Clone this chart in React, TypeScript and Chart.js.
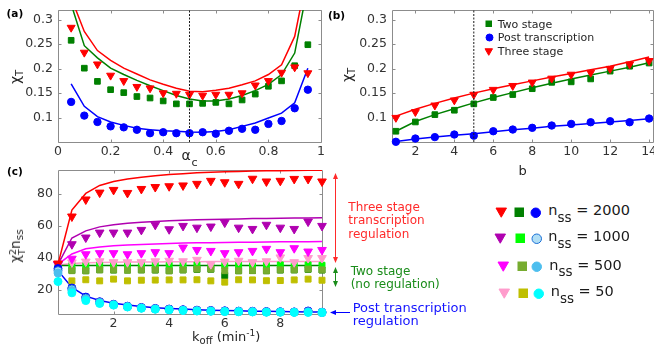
import React, { useEffect, useRef } from 'react';
import { Chart, registerables } from 'chart.js';

Chart.register(...registerables);

const FONT = "'DejaVu Sans', sans-serif";
const TICK_COLOR = '#333333';
const LABEL_COLOR = '#262626';
const BOX_COLOR = '#8c8c8c';

// ---------------- Panel (a): chi_T vs alpha_c ----------------
const alphaC = [0.05, 0.1, 0.15, 0.2, 0.25, 0.3, 0.35, 0.4, 0.45, 0.5, 0.55, 0.6, 0.65, 0.7, 0.75, 0.8, 0.85, 0.9, 0.95];
const aThreeSim = [0.284, 0.233, 0.209, 0.186, 0.175, 0.163, 0.16, 0.15, 0.149, 0.147, 0.145, 0.147, 0.147, 0.15, 0.166, 0.175, 0.192, 0.203, 0.191];
const aTwoSim = [0.258, 0.201, 0.174, 0.157, 0.151, 0.143, 0.14, 0.134, 0.128, 0.128, 0.129, 0.131, 0.128, 0.136, 0.148, 0.164, 0.175, 0.206, 0.249];
const aPostSim = [0.132, 0.104, 0.091, 0.082, 0.08, 0.075, 0.068, 0.07, 0.068, 0.068, 0.07, 0.067, 0.073, 0.077, 0.075, 0.087, 0.093, 0.119, 0.157];
const aThreeTheory = [0.345, 0.276, 0.237, 0.217, 0.201, 0.189, 0.177, 0.168, 0.16, 0.154, 0.153, 0.156, 0.16, 0.167, 0.175, 0.188, 0.208, 0.266, 0.4];
const aTwoTheory = [0.332, 0.247, 0.222, 0.201, 0.188, 0.176, 0.165, 0.155, 0.145, 0.138, 0.134, 0.134, 0.138, 0.145, 0.155, 0.168, 0.188, 0.232, 0.37];
const aPostTheory = [0.169, 0.123, 0.102, 0.091, 0.084, 0.078, 0.075, 0.073, 0.072, 0.0703, 0.07, 0.0715, 0.075, 0.082, 0.089, 0.099, 0.109, 0.13, 0.201];
const aMarkerAlpha = 0.5;
const aXRange = [0, 1];
const aYRange = [0.05, 0.32];
const aXTicks = [0, 0.2, 0.4, 0.6, 0.8, 1];
const aXTickLabels = ['0', '0.2', '0.4', '0.6', '0.8', '1'];
const chiYTicks = [0.1, 0.15, 0.2, 0.25, 0.3];
const chiYTickLabels = ['0.1', '0.15', '0.2', '0.25', '0.3'];

// ---------------- Panel (b): chi_T vs b ----------------
const bValues = [1, 2, 3, 4, 5, 6, 7, 8, 9, 10, 11, 12, 13, 14];
const bThreeSim = [0.0997, 0.1116, 0.125, 0.1354, 0.147, 0.157, 0.165, 0.172, 0.18, 0.188, 0.192, 0.2, 0.209, 0.216];
const bTwoSim = [0.072, 0.091, 0.106, 0.115, 0.128, 0.141, 0.147, 0.159, 0.172, 0.173, 0.179, 0.195, 0.205, 0.2115];
const bPostSim = [0.0504, 0.0571, 0.06, 0.0653, 0.063, 0.072, 0.0755, 0.079, 0.0837, 0.087, 0.0904, 0.0925, 0.0904, 0.098];
const bThreeTheory = [0.103, 0.117, 0.129, 0.14, 0.15, 0.159, 0.167, 0.175, 0.183, 0.19, 0.198, 0.205, 0.214, 0.224];
const bTwoTheory = [0.072, 0.092, 0.106, 0.118, 0.13, 0.141, 0.151, 0.161, 0.17, 0.179, 0.187, 0.195, 0.203, 0.212];
const bPostTheory = [0.051, 0.056, 0.06, 0.064, 0.067, 0.071, 0.075, 0.078, 0.082, 0.085, 0.088, 0.091, 0.094, 0.0975];
const bMarker = 5;
const bXRange = [0.8, 14.2];
const bXTicks = [2, 4, 6, 8, 10, 12, 14];
const bXTickLabels = ['2', '4', '6', '8', '10', '12', '14'];
const bLegendLabels = ['Two stage', 'Post transcription', 'Three stage'];

// ---------------- Panel (c): chi_T^2 n_ss vs k_off ----------------
const kOff = [0, 0.5, 1, 1.5, 2, 2.5, 3, 3.5, 4, 4.5, 5, 5.5, 6, 6.5, 7, 7.5, 8, 8.5, 9, 9.5];
const cThree2000 = [36.5, 66, 76.7, 81, 82.7, 80.8, 83.3, 84.5, 85, 85.5, 86.5, 88.4, 87.5, 86.5, 89.7, 88, 88.4, 89.6, 89.6, 88];
const cThree1000 = [36, 48.6, 52.8, 55.9, 55.9, 55.9, 57.6, 60.8, 58, 60.1, 59, 59.7, 62.2, 59, 58.2, 60.8, 59, 58.2, 62.8, 60.1];
const cThree500 = [36, 39.5, 42.3, 43, 43, 42.3, 43, 43.6, 43, 46.5, 45, 44.4, 43, 43.6, 44.4, 45.7, 43.6, 46.1, 44, 45];
const cThree50 = [35.5, 37.2, 37.7, 37.9, 37.3, 37.3, 37.3, 37.9, 38.2, 37.9, 38.8, 36.1, 37.7, 38.2, 37.3, 37.9, 40.3, 37.3, 39.9, 39.9];
const cTwo2000 = [35, 32.2, 32, 32.6, 32.4, 32.4, 32.5, 32.4, 32, 32.5, 32.8, 32.9, 28.9, 32, 32.1, 32, 32.4, 32.5, 32.8, 32.4];
const cTwo1000 = [35.2, 35.3, 35.1, 35.4, 35.2, 35.3, 35.5, 35.2, 35.3, 35.4, 35.6, 35.3, 35.2, 35.4, 35.3, 35.2, 35.6, 35.3, 35.6, 35.4];
const cTwo500 = [33.5, 32, 31.9, 32.5, 32.5, 32.3, 32.5, 32.5, 31.9, 32.5, 33, 33, 32, 31.9, 32, 31.9, 32.5, 32.5, 33, 32.5];
const cTwo50 = [33, 25.6, 26.3, 25.6, 26.7, 25.6, 26, 26.1, 26.2, 26.2, 26.3, 25.6, 24.8, 26.3, 26.2, 25.7, 25.8, 26.2, 26.7, 26];
const cPost2000 = [33.3, 21.1, 15.4, 12.5, 10.9, 9.7, 8.9, 8.3, 7.9, 7.5, 7.2, 7, 6.8, 6.6, 6.5, 6.3, 6.2, 6.1, 6.7, 5.9];
const cPost1000 = [32, 20.5, 14.8, 12.2, 10.7, 9.5, 8.7, 8.1, 7.7, 7.3, 7, 6.8, 6.6, 6.4, 6.3, 6.2, 6.1, 6, 6.3, 5.8];
const cPost500 = [30.5, 19.5, 14.2, 11.9, 10.5, 9.3, 8.5, 7.9, 7.5, 7.1, 6.8, 6.6, 6.4, 6.3, 6.2, 6, 6, 5.9, 6, 5.7];
const cPost50 = [25.2, 18.1, 13.2, 11.4, 10.4, 9.2, 8.4, 7.8, 7.4, 7, 6.7, 6.5, 6.3, 6.2, 6.1, 5.9, 5.9, 5.8, 5.8, 5.7];
const cThreeFit2000 = [36, 70, 80.5, 85.5, 88, 89.5, 90.7, 91.6, 92.3, 92.9, 93.4, 93.8, 94.1, 94.3, 94.5, 94.7, 94.8, 94.9, 95, 95];
const cThreeFit1000 = [36, 52.5, 57, 59.5, 60.8, 61.7, 62.4, 62.9, 63.3, 63.6, 63.9, 64.1, 64.3, 64.5, 64.7, 64.8, 64.9, 65, 65.1, 65.2];
const cThreeFit500 = [36, 42.5, 45.7, 46.8, 47.6, 48.1, 48.5, 48.8, 49.1, 49.3, 49.5, 49.6, 49.7, 49.8, 49.9, 50, 50.1, 50.2, 50.2, 50.3];
const cThreeFit50 = [35.5, 36.5, 37, 37.2, 37.3, 37.4, 37.5, 37.5, 37.6, 37.6, 37.6, 37.7, 37.7, 37.7, 37.7, 37.8, 37.8, 37.8, 37.8, 37.8];
const cTwoFit = [35.2, 35.2, 35.2, 35.2, 35.2, 35.2, 35.2, 35.2, 35.2, 35.2, 35.2, 35.2, 35.2, 35.2, 35.2, 35.2, 35.2, 35.2, 35.2, 35.2];
const cPostFit = [32, 21.5, 16, 13.3, 11.6, 10.4, 9.5, 8.8, 8.3, 7.9, 7.5, 7.2, 7, 6.8, 6.6, 6.5, 6.3, 6.2, 6.1, 6];
const cXRange = [0, 9.5];
const cYRange = [4.8, 95.2];
const cXTicks = [2, 4, 6, 8];
const cXTickLabels = ['2', '4', '6', '8'];
const cYTicks = [20, 40, 60, 80];
const cYTickLabels = ['20', '40', '60', '80'];
const cArrowThree = [93.3, 36.8];
const cArrowTwo = [34.3, 21.8];
const cArrowPost = 6.1;
const nssLabels = ['2000', '1000', '500', '50'];

// ---------------- styles ----------------
const RED = '#ff0000';
const GREEN = '#008000';
const BLUE = '#0000ff';
const PURPLE = '#b000b0';
const MAGENTA = '#ff00ff';
const PINK = '#ff9ccc';
const LIME = '#00ff00';
const OLIVE = '#77ac30';
const YELLOW = '#bfbf00';
const LIGHTBLUE = '#b0def5';
const LIGHTBLUE_EDGE = '#1a6fd6';
const SKY = '#4dbeee';
const CYAN = '#00ffff';

type Area = { left: number; top: number; right: number; bottom: number };
const PAD = { l: 60, t: 16, r: 40, b: 30 };
const AREA_A: Area = { left: 58, top: 10, right: 321, bottom: 142 };
const AREA_B: Area = { left: 392, top: 10, right: 653, bottom: 142 };
const AREA_C: Area = { left: 58, top: 170, right: 322, bottom: 314 };

const pts = (xs: number[], ys: number[]) => xs.map((x, i) => ({ x, y: ys[i] }));

function lineSet(xs: number[], ys: number[], color: string, width = 1.5): any {
  return { data: pts(xs, ys), showLine: true, borderColor: color, backgroundColor: color, borderWidth: width, pointRadius: 0, pointHoverRadius: 0, tension: 0, clip: 0 };
}
function markSet(xs: number[], ys: number[], shape: string, fill: string, r: number, stroke?: string): any {
  return {
    data: pts(xs, ys), showLine: false, pointStyle: shape, pointRotation: shape === 'triangle' ? 180 : 0,
    pointRadius: r, pointHoverRadius: r, backgroundColor: fill, borderColor: stroke || fill, borderWidth: 1, clip: false,
  };
}
function vLine(x: number, yr: number[]): any {
  return { data: [{ x, y: yr[0] }, { x, y: yr[1] }], showLine: true, borderColor: '#1a1a1a', borderWidth: 1, borderDash: [2, 1.5], pointRadius: 0, clip: false };
}

const boxPlugin = {
  id: 'matlabBox',
  beforeDatasetsDraw(chart: any) {
    const { ctx, chartArea: a, scales } = chart;
    const L = Math.round(a.left) + 0.5, T = Math.round(a.top) + 0.5, R = Math.round(a.right) + 0.5, B = Math.round(a.bottom) + 0.5;
    ctx.save();
    ctx.strokeStyle = BOX_COLOR;
    ctx.lineWidth = 1;
    ctx.beginPath();
    ctx.rect(L, T, R - L, B - T);
    const tl = 3;
    scales.x.ticks.forEach((t: any) => {
      const px = Math.round(scales.x.getPixelForValue(t.value)) + 0.5;
      ctx.moveTo(px, B); ctx.lineTo(px, B - tl);
      ctx.moveTo(px, T); ctx.lineTo(px, T + tl);
    });
    scales.y.ticks.forEach((t: any) => {
      const py = Math.round(scales.y.getPixelForValue(t.value)) + 0.5;
      ctx.moveTo(L, py); ctx.lineTo(L + tl, py);
      ctx.moveTo(R, py); ctx.lineTo(R - tl, py);
    });
    ctx.stroke();
    ctx.restore();
  },
};

const arrowPlugin = {
  id: 'sideArrows',
  afterDraw(chart: any, _args: any, opts: any) {
    const { ctx, chartArea: a, scales } = chart;
    const y = scales.y;
    const tri = (x1: number, y1: number, x2: number, y2: number, x3: number, y3: number) => {
      ctx.beginPath(); ctx.moveTo(x1, y1); ctx.lineTo(x2, y2); ctx.lineTo(x3, y3); ctx.closePath(); ctx.fill();
    };
    ctx.save();
    (opts.items || []).forEach((it: any) => {
      ctx.strokeStyle = it.color; ctx.fillStyle = it.color; ctx.lineWidth = 1;
      if (it.kind === 'double') {
        const x = Math.round(a.right + it.dx) + 0.5;
        const y1 = y.getPixelForValue(it.range[0]);
        const y2 = y.getPixelForValue(it.range[1]);
        ctx.beginPath(); ctx.moveTo(x, y1 + 4); ctx.lineTo(x, y2 - 4); ctx.stroke();
        tri(x, y1, x - 2.5, y1 + 6, x + 2.5, y1 + 6);
        tri(x, y2, x - 2.5, y2 - 6, x + 2.5, y2 - 6);
      } else {
        const yy = Math.round(y.getPixelForValue(it.at)) + 0.5;
        const x0 = a.right + it.dx0, x1 = a.right + it.dx1;
        ctx.beginPath(); ctx.moveTo(x0 + 4, yy); ctx.lineTo(x1, yy); ctx.stroke();
        tri(x0, yy, x0 + 6, yy - 2.5, x0 + 6, yy + 2.5);
      }
    });
    ctx.restore();
  },
};

function axis(which: 'x' | 'y', range: number[], ticks: number[], labels: string[]): any {
  return {
    type: 'linear', min: range[0], max: range[1],
    afterBuildTicks: (s: any) => { s.ticks = ticks.map((v) => ({ value: v })); },
    afterFit: (s: any) => { if (which === 'x') s.height = PAD.b; else s.width = PAD.l; },
    grid: { display: false, drawTicks: false },
    border: { display: false },
    ticks: {
      autoSkip: false, maxRotation: 0, minRotation: 0, padding: which === 'x' ? 2 : 5,
      color: TICK_COLOR, font: { family: FONT, size: 12.5 },
      callback: (_v: any, i: number) => labels[i],
    },
  };
}

function makeConfig(bottomToTop: any[], x: any, y: any, extra: any[] = [], pluginOpts: any = {}): any {
  return {
    type: 'scatter',
    data: { datasets: bottomToTop.slice().reverse() },
    options: {
      responsive: false, animation: false, events: [],
      layout: { padding: { left: 0, top: PAD.t, right: PAD.r, bottom: 0 } },
      plugins: { legend: { display: false }, tooltip: { enabled: false }, ...pluginOpts },
      scales: { x, y },
    },
    plugins: [boxPlugin, ...extra],
  };
}

function canvasBox(a: Area) {
  return { left: a.left - PAD.l, top: a.top - PAD.t, width: a.right - a.left + PAD.l + PAD.r, height: a.bottom - a.top + PAD.t + PAD.b };
}

function Txt({ x, base, size, color = LABEL_COLOR, bold = false, children }: any) {
  return (
    <div style={{ position: 'absolute', left: x, top: base - 0.846 * size, fontSize: size, lineHeight: `${size}px`, color, fontWeight: bold ? 'bold' : 'normal', whiteSpace: 'nowrap', fontFamily: FONT }}>
      {children}
    </div>
  );
}
const Sub = ({ size, dy, children }: any) => <span style={{ fontSize: size, position: 'relative', top: dy }}>{children}</span>;

function Mk({ shape, x, y, s, fill, stroke }: any) {
  const w = s + 2;
  const c = w / 2;
  const h = s / 2;
  let el: any;
  if (shape === 'tri') el = <polygon points={`${c - h},${c - h * 0.8} ${c + h},${c - h * 0.8} ${c},${c + h * 0.95}`} fill={fill} stroke={stroke || fill} strokeWidth={1} />;
  else if (shape === 'sq') el = <rect x={c - h} y={c - h} width={s} height={s} fill={fill} stroke={stroke || fill} strokeWidth={1} />;
  else el = <circle cx={c} cy={c} r={h} fill={fill} stroke={stroke || fill} strokeWidth={1} />;
  return (
    <svg width={w} height={w} style={{ position: 'absolute', left: x - c, top: y - c, overflow: 'visible' }}>{el}</svg>
  );
}

export default function App() {
  const refA = useRef<HTMLCanvasElement>(null);
  const refB = useRef<HTMLCanvasElement>(null);
  const refC = useRef<HTMLCanvasElement>(null);

  useEffect(() => {
    const cfgA = makeConfig(
      [
        lineSet(alphaC, aThreeTheory, RED),
        lineSet(alphaC, aTwoTheory, GREEN),
        lineSet(alphaC, aPostTheory, BLUE),
        markSet(alphaC, aTwoSim, 'rect', GREEN, 4),
        markSet(alphaC, aPostSim, 'circle', BLUE, 3.7),
        markSet(alphaC, aThreeSim, 'triangle', RED, 4.6),
        vLine(aMarkerAlpha, aYRange),
      ],
      axis('x', aXRange, aXTicks, aXTickLabels),
      axis('y', aYRange, chiYTicks, chiYTickLabels),
    );
    const cfgB = makeConfig(
      [
        lineSet(bValues, bThreeTheory, RED),
        lineSet(bValues, bTwoTheory, GREEN),
        lineSet(bValues, bPostTheory, BLUE),
        markSet(bValues, bTwoSim, 'rect', GREEN, 4),
        markSet(bValues, bPostSim, 'circle', BLUE, 3.7),
        markSet(bValues, bThreeSim, 'triangle', RED, 4.6),
        vLine(bMarker, aYRange),
      ],
      axis('x', bXRange, bXTicks, bXTickLabels),
      axis('y', aYRange, chiYTicks, chiYTickLabels),
    );
    const cfgC = makeConfig(
      [
        lineSet(kOff, cThreeFit50, PINK),
        lineSet(kOff, cThreeFit500, MAGENTA),
        lineSet(kOff, cThreeFit1000, PURPLE),
        lineSet(kOff, cThreeFit2000, RED),
        lineSet(kOff, cTwoFit, GREEN),
        lineSet(kOff, cPostFit, BLUE),
        markSet(kOff, cTwo2000, 'rect', GREEN, 4.2),
        markSet(kOff, cTwo1000, 'rect', LIME, 4.2),
        markSet(kOff, cTwo500, 'rect', OLIVE, 4.2),
        markSet(kOff, cTwo50, 'rect', YELLOW, 4.2),
        markSet(kOff, cThree50, 'triangle', PINK, 5),
        markSet(kOff, cThree500, 'triangle', MAGENTA, 5),
        markSet(kOff, cThree1000, 'triangle', PURPLE, 5),
        markSet(kOff, cThree2000, 'triangle', RED, 5),
        markSet(kOff, cPost2000, 'circle', BLUE, 4),
        markSet(kOff, cPost1000, 'circle', LIGHTBLUE, 4, LIGHTBLUE_EDGE),
        markSet(kOff, cPost500, 'circle', SKY, 4),
        markSet(kOff, cPost50, 'circle', CYAN, 4),
      ],
      axis('x', cXRange, cXTicks, cXTickLabels),
      axis('y', cYRange, cYTicks, cYTickLabels),
      [arrowPlugin],
      {
        sideArrows: {
          items: [
            { kind: 'double', range: cArrowThree, color: '#ff2a2a', dx: 13 },
            { kind: 'double', range: cArrowTwo, color: '#1a8c1a', dx: 13 },
            { kind: 'left', at: cArrowPost, color: BLUE, dx0: 8, dx1: 28 },
          ],
        },
      },
    );
    const charts = [new Chart(refA.current!, cfgA), new Chart(refB.current!, cfgB), new Chart(refC.current!, cfgC)];
    return () => charts.forEach((c) => c.destroy());
  }, []);

  const bA = canvasBox(AREA_A), bB = canvasBox(AREA_B), bC = canvasBox(AREA_C);
  const cv = (b: any) => ({ position: 'absolute' as const, left: b.left, top: b.top, width: b.width, height: b.height });

  const rowSpecs = [
    { y: 212.5, base: 215.5, tx: 548.3, tri: 501, sq: 519.5, ci: 535.7, triC: RED, sqC: GREEN, ciC: BLUE, ciE: BLUE },
    { y: 238.3, base: 241.5, tx: 548.3, tri: 500.7, sq: 520, ci: 536.7, triC: PURPLE, sqC: LIME, ciC: LIGHTBLUE, ciE: LIGHTBLUE_EDGE },
    { y: 266.3, base: 270, tx: 549.3, tri: 503.3, sq: 522.7, ci: 536.7, triC: MAGENTA, sqC: OLIVE, ciC: SKY, ciE: SKY },
    { y: 293.3, base: 296.5, tx: 550.7, tri: 504.3, sq: 523.3, ci: 538.3, triC: PINK, sqC: YELLOW, ciC: CYAN, ciE: CYAN },
  ];

  return (
    <div style={{ position: 'fixed', left: 0, top: 0, width: 654, height: 345, overflow: 'hidden', background: '#ffffff', fontFamily: FONT }}>
      <canvas ref={refA} width={bA.width} height={bA.height} style={cv(bA)} />
      <canvas ref={refB} width={bB.width} height={bB.height} style={cv(bB)} />
      <canvas ref={refC} width={bC.width} height={bC.height} style={cv(bC)} />

      {/* panel tags */}
      <Txt x={6.5} base={17} size={10.5} bold color="#000">(a)</Txt>
      <Txt x={328} base={18.5} size={10.5} bold color="#000">(b)</Txt>
      <Txt x={7} base={174.5} size={10.5} bold color="#000">(c)</Txt>

      {/* axis labels panel (a) */}
      <Txt x={181.5} base={159.5} size={14}>α</Txt>
      <Txt x={191.5} base={166.5} size={11}>c</Txt>
      <div style={{ position: 'absolute', left: 15.5, top: 77, transform: 'translate(-50%,-50%) rotate(-90deg)', whiteSpace: 'nowrap', fontSize: 14, lineHeight: '14px', color: LABEL_COLOR }}>
        χ<Sub size={10} dy={3}>T</Sub>
      </div>

      {/* axis labels panel (b) */}
      <Txt x={518.5} base={175} size={13}>b</Txt>
      <div style={{ position: 'absolute', left: 348, top: 75, transform: 'translate(-50%,-50%) rotate(-90deg)', whiteSpace: 'nowrap', fontSize: 14, lineHeight: '14px', color: LABEL_COLOR }}>
        χ<Sub size={10} dy={3}>T</Sub>
      </div>

      {/* legend panel (b) */}
      <Mk shape="sq" x={489} y={24.2} s={5.5} fill={GREEN} />
      <Mk shape="ci" x={489} y={37} s={7} fill={BLUE} />
      <Mk shape="tri" x={489} y={51.5} s={7.5} fill={RED} />
      <Txt x={497.7} base={28.5} size={11}>{bLegendLabels[0]}</Txt>
      <Txt x={497.7} base={41.7} size={11}>{bLegendLabels[1]}</Txt>
      <Txt x={497.7} base={55} size={11}>{bLegendLabels[2]}</Txt>

      {/* axis labels panel (c) */}
      <Txt x={192} base={341} size={13}>
        k<Sub size={10} dy={3}>off</Sub> (min<Sub size={9} dy={-5}>-1</Sub>)
      </Txt>
      <div style={{ position: 'absolute', left: 15.5, top: 246, transform: 'translate(-50%,-50%) rotate(-90deg)', whiteSpace: 'nowrap', fontSize: 13.5, lineHeight: '14px', color: LABEL_COLOR }}>
        χ
        <span style={{ display: 'inline-block', verticalAlign: 'middle', lineHeight: '9px', fontSize: 9.5, textAlign: 'left', position: 'relative', top: 1 }}>
          2<br />T
        </span>
        n<Sub size={10.5} dy={3}>ss</Sub>
      </div>

      {/* annotations panel (c) */}
      <Txt x={348.3} base={211} size={12} color="#ff2a2a">Three stage</Txt>
      <Txt x={348.3} base={224.5} size={12} color="#ff2a2a">transcription</Txt>
      <Txt x={348.3} base={238} size={12} color="#ff2a2a">regulation</Txt>
      <Txt x={350.7} base={275} size={12} color="#1a8c1a">Two stage</Txt>
      <Txt x={350.7} base={288.5} size={12} color="#1a8c1a">(no regulation)</Txt>
      <Txt x={352.7} base={311.5} size={13} color="#1414ff">Post transcription</Txt>
      <Txt x={352.7} base={325} size={13} color="#1414ff">regulation</Txt>

      {/* n_ss legend */}
      {rowSpecs.map((r, i) => (
        <React.Fragment key={i}>
          <Mk shape="tri" x={r.tri} y={r.y} s={10.5} fill={r.triC} />
          <Mk shape="sq" x={r.sq} y={r.y} s={8.5} fill={r.sqC} />
          <Mk shape="ci" x={r.ci} y={r.y} s={9.5} fill={r.ciC} stroke={r.ciE} />
          <Txt x={r.tx} base={r.base} size={14.5} color="#1a1a1a">
            n<Sub size={13.5} dy={6.5}>ss</Sub> = {nssLabels[i]}
          </Txt>
        </React.Fragment>
      ))}
    </div>
  );
}
